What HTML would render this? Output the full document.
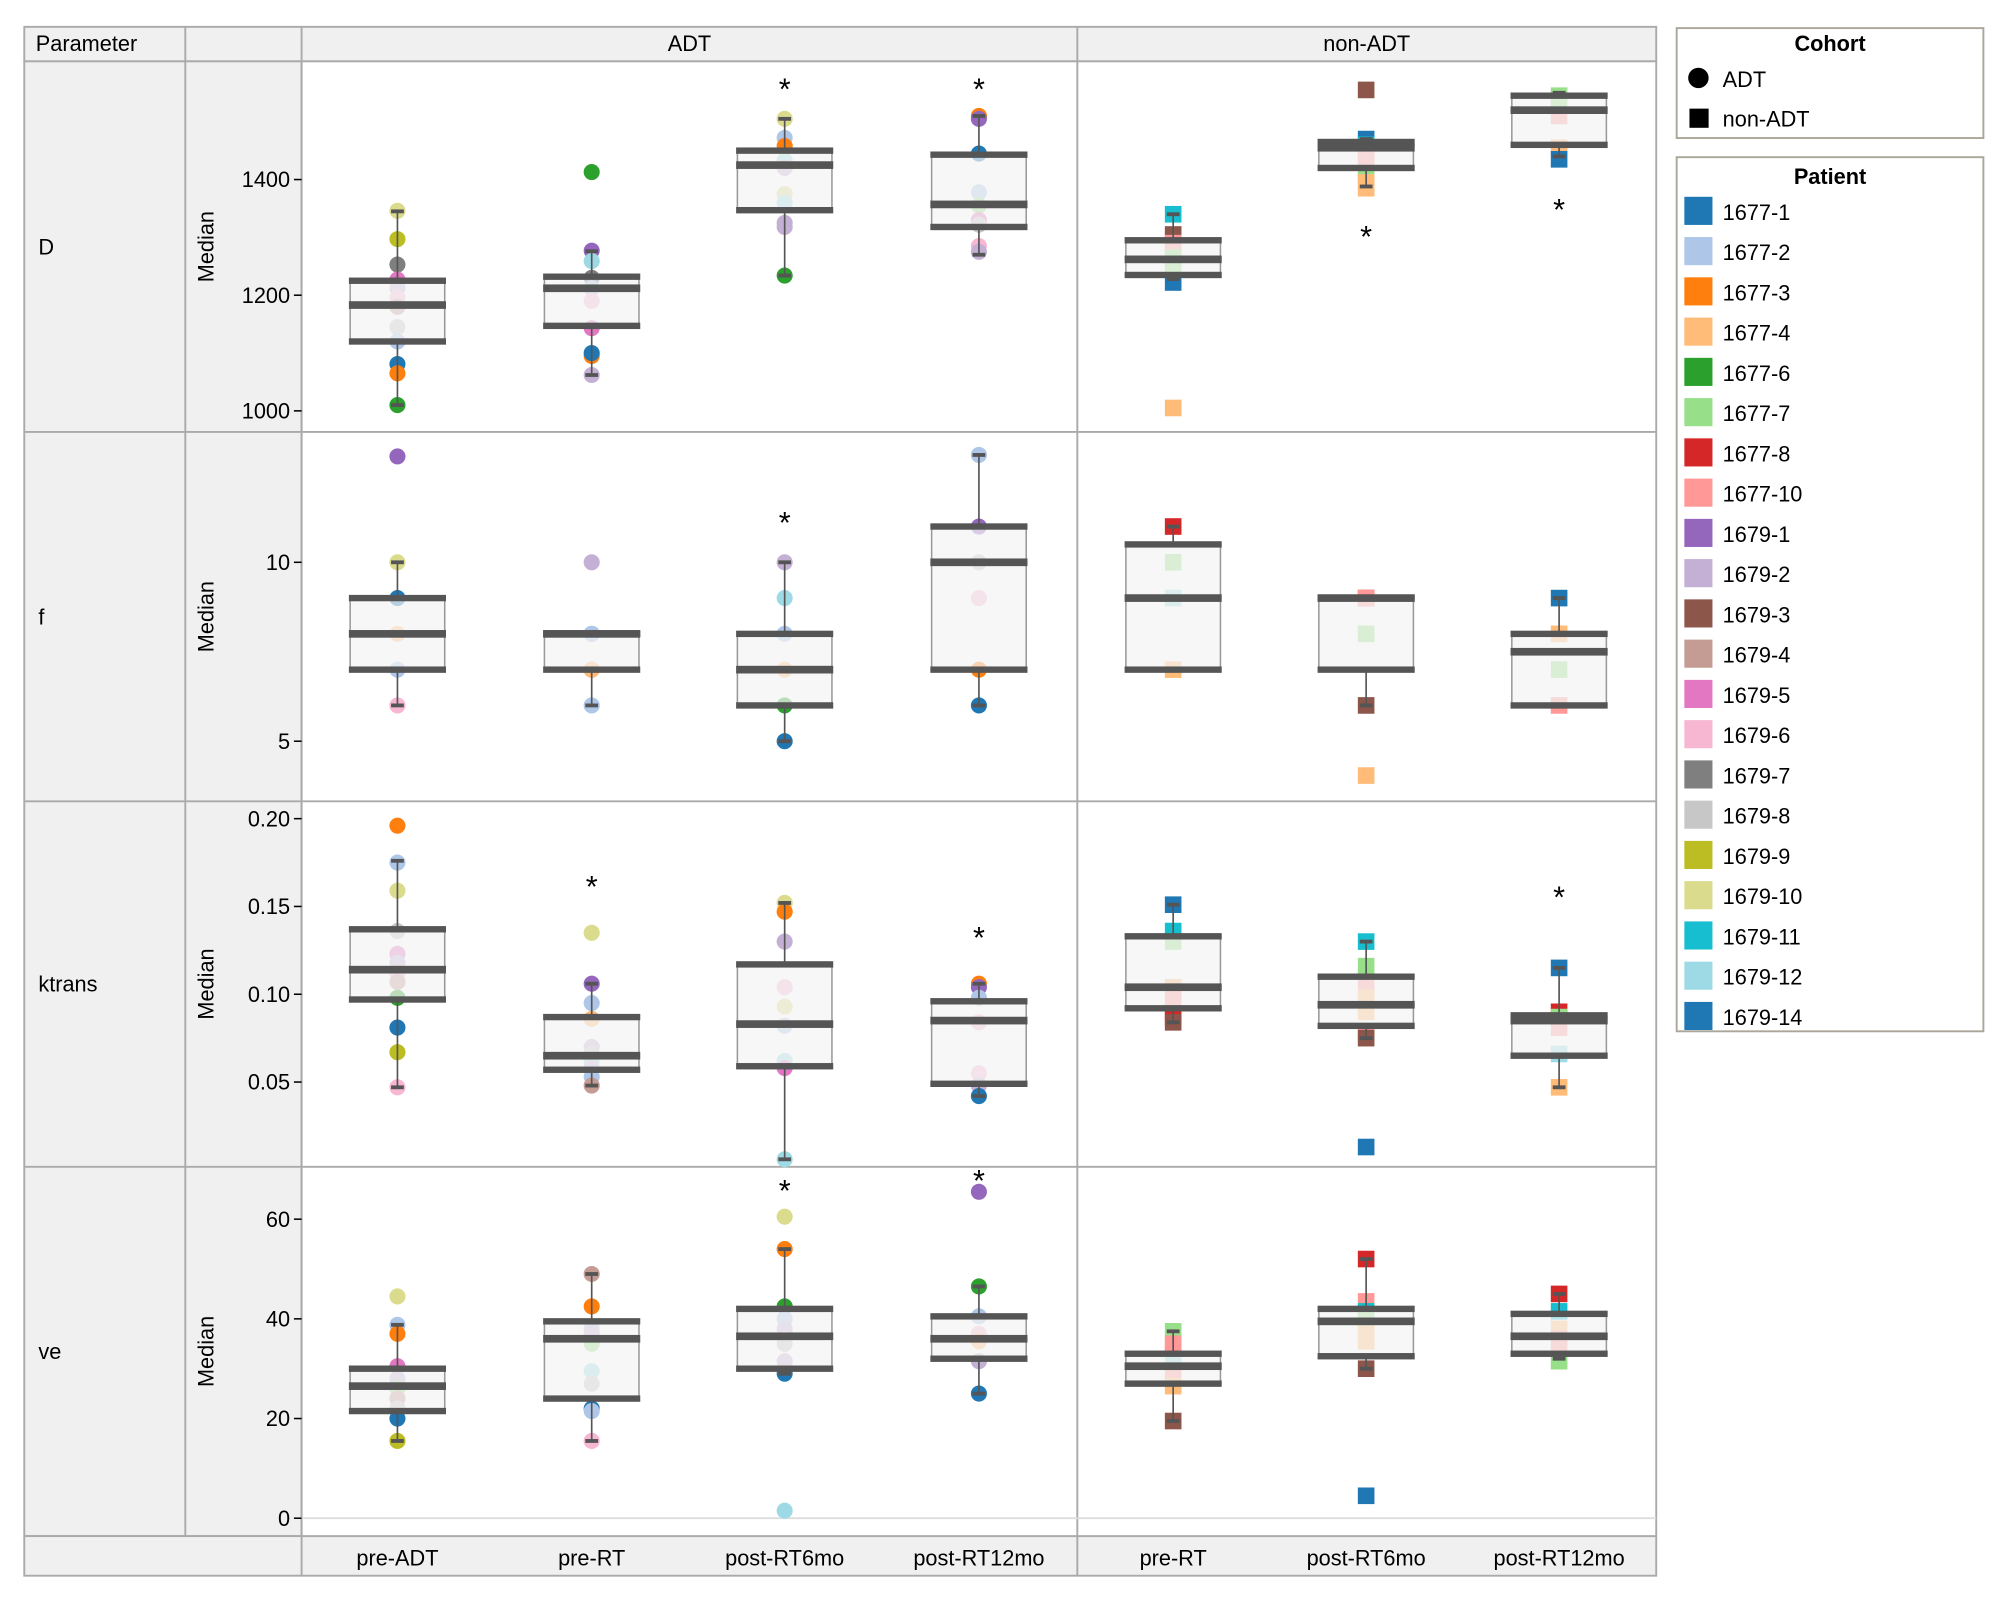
<!DOCTYPE html>
<html><head><meta charset="utf-8"><style>
html,body{margin:0;padding:0;background:#fff;}
svg{display:block;font-family:"Liberation Sans","DejaVu Sans",sans-serif;}
</style></head><body>
<svg id="chart" width="2000" height="1600" viewBox="0 0 1565 1252" preserveAspectRatio="none" xmlns="http://www.w3.org/2000/svg">
<g id="frame"></g>
<g id="marks"></g>
<g id="legend"></g>
</svg>
<script>
const patients=["1677-1","1677-2","1677-3","1677-4","1677-6","1677-7","1677-8","1677-10","1679-1","1679-2","1679-3","1679-4","1679-5","1679-6","1679-7","1679-8","1679-9","1679-10","1679-11","1679-12","1679-14"];
const patientColors=["#1f77b4","#aec7e8","#ff7f0e","#ffbb78","#2ca02c","#98df8a","#d62728","#ff9896","#9467bd","#c5b0d5","#8c564b","#c49c94","#e377c2","#f7b6d2","#7f7f7f","#c7c7c7","#bcbd22","#dbdb8d","#17becf","#9edae5","#1f77b4"];
const cohorts=["ADT","non-ADT"];
const adtCategories=["pre-ADT","pre-RT","post-RT6mo","post-RT12mo"];
const nonAdtCategories=["pre-RT","post-RT6mo","post-RT12mo"];
const params=["D","f","ktrans","ve"];
const dTicks=[1000,1200,1400];
const fTicks=[5,10];
const ktransTicks=[0.05,0.10,0.15,0.20];
const ktransTickLabels=["0.05","0.10","0.15","0.20"];
const veTicks=[0,20,40,60];
// points per category: [patientIndex, value]; categories ADT(4) then non-ADT(3)
const dPoints=[
[[17,1346],[16,1297],[14,1253],[12,1227],[9,1213],[13,1196],[11,1180],[15,1145],[1,1120],[20,1081],[2,1065],[4,1010]],
[[4,1413],[8,1277],[19,1259],[14,1230],[1,1212],[13,1190],[12,1143],[2,1095],[20,1100],[9,1062]],
[[17,1505],[1,1472],[2,1458],[19,1433],[9,1420],[17,1375],[19,1360],[9,1325],[9,1318],[4,1234]],
[[2,1510],[8,1505],[20,1445],[1,1378],[5,1355],[12,1330],[15,1322],[13,1285],[9,1275]],
[[18,1340],[10,1305],[7,1290],[7,1280],[5,1265],[5,1245],[0,1222],[3,1005]],
[[10,1555],[0,1470],[18,1460],[7,1450],[7,1430],[5,1410],[3,1395],[3,1385]],
[[5,1545],[5,1535],[7,1510],[3,1455],[0,1435]]];
const dBoxes=[[1010,1120,1183,1225,1345],[1062,1147,1212,1232,1276],[1234,1347,1425,1450,1505],[1270,1318,1357,1443,1510],[1228,1235,1262,1295,1340],[1388,1420,1455,1465,1470],[1440,1460,1520,1545,1550]];
const dStars=[null,null,1565,1565,null,1310,1357];
const fPoints=[
[[8,12.96],[17,10],[20,9],[3,8],[1,7],[13,6]],
[[9,10],[20,8],[1,8],[2,7],[3,7],[1,6]],
[[9,10],[19,9],[1,8],[3,7],[4,6],[20,5]],
[[1,13],[8,11],[15,10],[13,9],[2,7],[20,6]],
[[6,11],[5,10],[19,9],[3,7]],
[[6,9],[7,9],[5,8],[10,6],[3,4.04]],
[[0,9],[3,8],[5,7],[7,6]]];
const fBoxes=[[6,7,8,9,10],[6,7,8,8,8],[5,6,7,8,10],[6,7,10,11,13],[7,7,9,10.5,11],[6,7,9,9,9],[6,6,7.5,8,9]];
const fStars=[null,null,11.25,null,null,null,null];
const ktransPoints=[
[[2,0.196],[1,0.175],[17,0.159],[15,0.136],[12,0.123],[9,0.118],[13,0.112],[11,0.107],[4,0.098],[20,0.081],[16,0.067],[13,0.047]],
[[17,0.135],[8,0.106],[1,0.095],[3,0.086],[9,0.070],[15,0.066],[19,0.062],[9,0.058],[1,0.053],[11,0.048]],
[[17,0.152],[2,0.147],[9,0.130],[13,0.104],[17,0.093],[1,0.082],[19,0.062],[12,0.058],[19,0.006]],
[[2,0.106],[8,0.104],[1,0.098],[13,0.084],[13,0.055],[9,0.048],[20,0.042]],
[[0,0.151],[18,0.136],[5,0.130],[3,0.104],[7,0.098],[7,0.090],[6,0.087],[10,0.084]],
[[18,0.130],[5,0.116],[7,0.105],[3,0.098],[3,0.090],[7,0.078],[10,0.075],[0,0.013]],
[[0,0.115],[6,0.090],[5,0.087],[7,0.081],[19,0.066],[3,0.047]]];
const ktransBoxes=[[0.047,0.097,0.114,0.137,0.176],[0.048,0.057,0.065,0.087,0.106],[0.006,0.059,0.083,0.117,0.152],[0.042,0.049,0.085,0.096,0.106],[0.084,0.092,0.104,0.133,0.151],[0.075,0.082,0.094,0.110,0.130],[0.047,0.065,0.085,0.088,0.115]];
const ktransStars=[null,0.164,null,0.135,null,null,0.158];
const vePoints=[
[[17,44.5],[1,38.8],[2,37],[12,30.5],[9,28],[5,26],[11,24],[15,22],[20,20],[16,15.5]],
[[11,49],[2,42.5],[1,38],[9,37],[5,35],[19,29.5],[15,27],[20,22],[1,21.5],[13,15.5]],
[[17,60.5],[2,54],[4,42.5],[1,40],[9,38],[13,36],[15,35],[9,31.5],[20,29],[19,1.5]],
[[8,65.5],[4,46.5],[1,40.5],[13,37],[3,35.5],[9,31.5],[20,25]],
[[5,37.5],[7,35],[7,34],[19,31],[7,29],[3,26.5],[10,19.5]],
[[6,52],[7,43.5],[18,41.5],[5,40],[3,37],[3,35.5],[10,30],[0,4.5]],
[[6,45],[18,41.5],[3,38],[7,36],[7,34],[5,31.5]]];
const veBoxes=[[15.5,21.5,26.5,30,38.8],[15.5,24,36,39.5,49],[29,30,36.5,42,54],[25,32,36,40.5,46.5],[19.5,27,30.5,33,37.5],[30,32.5,39.5,42,52],[32,33,36.5,41,45]];
const veStars=[null,null,66.7,68.7,null,null,null];

const NS="http://www.w3.org/2000/svg";
function mk(tag,attrs,parent,text){const e=document.createElementNS(NS,tag);for(const k in attrs)e.setAttribute(k,attrs[k]);if(text!==undefined)e.textContent=text;parent.appendChild(e);return e;}
const frame=document.getElementById('frame'),marks=document.getElementById('marks'),legend=document.getElementById('legend');
const L=19,C1=145,C2=236,XM=843,R=1296,HT=21,HB=48;
const rowTops=[48,338,627,913,1202];
const scales=[
 {v0:1200,y0:231,k:0.4525},{v0:10,y0:440,k:28},{v0:0.10,y0:778,k:1374},{v0:0,y0:1188,k:3.9}];
function yScale(r,v){const s=scales[r];return s.y0-(v-s.v0)*s.k;}
const catX=[311,463,614,766,918,1069,1220];
function xScale(i){return catX[i];}
const allPoints=[dPoints,fPoints,ktransPoints,vePoints];
const allBoxes=[dBoxes,fBoxes,ktransBoxes,veBoxes];
const allStars=[dStars,fStars,ktransStars,veStars];
const allTicks=[dTicks,fTicks,ktransTicks,veTicks];
const allTickLabels=[dTicks.map(String),fTicks.map(String),ktransTickLabels,veTicks.map(String)];
const FS=17;
// frame backgrounds
let e;
e=mk('rect',{x:L,y:HT,width:R-L,height:HB-HT,fill:'#f0f0f0',stroke:'#aaa','stroke-width':1.5},frame);

e=mk('rect',{x:L,y:HB,width:C2-L,height:1202-HB,fill:'#f0f0f0',stroke:'#aaa','stroke-width':1.5},frame);

e=mk('rect',{x:L,y:1202,width:R-L,height:31,fill:'#f0f0f0',stroke:'#aaa','stroke-width':1.5},frame);

e=mk('rect',{x:C2,y:HB,width:R-C2,height:1202-HB,fill:'#fff',stroke:'#aaa','stroke-width':1.5},frame);

[[C1,HT,C1,1202],[C2,HT,C2,1233],[XM,HT,XM,1233]].forEach(a=>{mk('line',{x1:a[0],y1:a[1],x2:a[2],y2:a[3],stroke:'#aaa','stroke-width':1.5},frame);});
for(let r=1;r<4;r++){mk('line',{x1:L,y1:rowTops[r],x2:R,y2:rowTops[r],stroke:'#aaa','stroke-width':1.5},frame);}
e=mk('text',{x:28,y:40,'font-size':FS},frame,'Parameter');

e=mk('text',{x:(C2+XM)/2,y:40,'font-size':FS,'text-anchor':'middle'},frame,cohorts[0]);

e=mk('text',{x:(XM+R)/2,y:40,'font-size':FS,'text-anchor':'middle'},frame,cohorts[1]);

const cats=adtCategories.concat(nonAdtCategories);
cats.forEach((c,i)=>{const t=mk('text',{x:xScale(i),y:1225,'font-size':FS,'text-anchor':'middle'},frame,c);

});
// zero line in ve
e=mk('line',{x1:C2,x2:R,y1:yScale(3,0),y2:yScale(3,0),stroke:'#ddd','stroke-width':1.5},frame);

params.forEach((p,r)=>{
 const mid=(rowTops[r]+rowTops[r+1])/2;
 const t=mk('text',{x:30,y:mid+6,'font-size':FS},frame,p);
 
 
 const yl=mk('text',{x:0,y:0,'font-size':FS,'text-anchor':'middle',transform:`translate(167,${mid}) rotate(-90)`},frame,'Median');
 
 
 allTicks[r].forEach((v,j)=>{const y=yScale(r,v);
  mk('line',{x1:C2-6,x2:C2,y1:y,y2:y,stroke:'#000','stroke-width':1.2},frame);
  const tl=mk('text',{x:C2-9,y:y+6,'font-size':FS,'text-anchor':'end'},frame,allTickLabels[r][j]);
  
  });
 const pts=allPoints[r],boxes=allBoxes[r],stars=allStars[r];
 for(let i=0;i<7;i++){
  const x=xScale(i),g=mk('g',{},marks);
  
  
  pts[i].forEach(pt=>{const y=yScale(r,pt[1]);let m;
   if(i<4){m=mk('circle',{cx:x,cy:y,r:6.3,fill:patientColors[pt[0]]},g);}
   else{m=mk('rect',{x:x-6.5,y:y-6.5,width:13,height:13,fill:patientColors[pt[0]]},g);}
   
   });
  const b=boxes[i];const yl0=yScale(r,b[0]),yq1=yScale(r,b[1]),ym=yScale(r,b[2]),yq3=yScale(r,b[3]),yh=yScale(r,b[4]);
  mk('line',{x1:x,x2:x,y1:yh,y2:yq3,stroke:'#555','stroke-width':1.3},g);
  mk('line',{x1:x,x2:x,y1:yq1,y2:yl0,stroke:'#555','stroke-width':1.3},g);
  mk('rect',{x:x-5,y:yh-1.5,width:10,height:3,fill:'#555'},g);
  mk('rect',{x:x-5,y:yl0-1.5,width:10,height:3,fill:'#555'},g);
  mk('rect',{x:x-37,y:yq3,width:74,height:Math.max(yq1-yq3,0.5),fill:'rgba(244,244,244,0.72)',stroke:'#999','stroke-width':1.2},g);
  mk('rect',{x:x-38,y:yq3-2.5,width:76,height:5,fill:'#555'},g);
  mk('rect',{x:x-38,y:yq1-2.5,width:76,height:5,fill:'#555'},g);
  mk('rect',{x:x-38,y:ym-3,width:76,height:6,fill:'#555'},g);
  if(stars[i]!==null){const s=mk('text',{x:x,y:yScale(r,stars[i])+12,'font-size':24,'text-anchor':'middle'},g,'*');
   
   }
 }
});
// legend
e=mk('rect',{x:1312,y:22,width:240,height:86,fill:'#fff',stroke:'#aaa79a','stroke-width':1.5},legend);

mk('text',{x:1432,y:40,'font-size':FS,'font-weight':'bold','text-anchor':'middle'},legend,'Cohort');
mk('circle',{cx:1329,cy:61,r:8,fill:'#000'},legend);
e=mk('text',{x:1348,y:68,'font-size':FS},legend,'ADT');

mk('rect',{x:1322,y:85,width:15,height:15,fill:'#000'},legend);
e=mk('text',{x:1348,y:99,'font-size':FS},legend,'non-ADT');

e=mk('rect',{x:1312,y:123,width:240,height:684,fill:'#fff',stroke:'#aaa79a','stroke-width':1.5},legend);

mk('text',{x:1432,y:144,'font-size':FS,'font-weight':'bold','text-anchor':'middle'},legend,'Patient');
patients.forEach((p,i)=>{const y=165+i*31.5;const g=mk('g',{},legend);
 
 
 mk('rect',{x:1318,y:y-11,width:22,height:22,fill:patientColors[i]},g);
 mk('text',{x:1348,y:y+7,'font-size':FS},g,p);});
</script>
</body></html>
